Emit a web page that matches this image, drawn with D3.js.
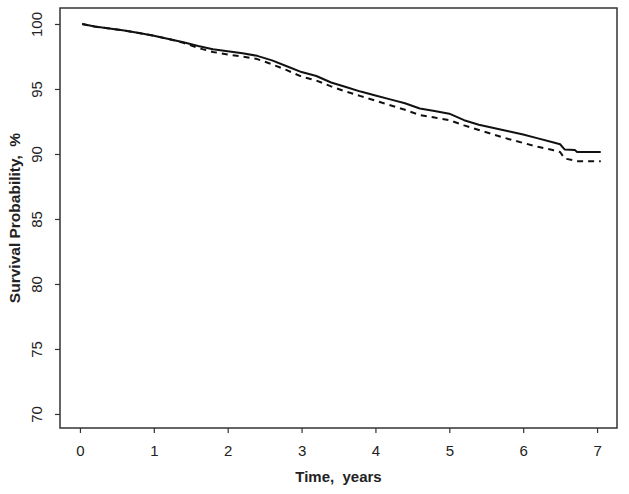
<!DOCTYPE html>
<html>
<head>
<meta charset="utf-8">
<script src="https://cdn.jsdelivr.net/npm/d3@7"></script>
<style>
body{margin:0;background:#fff;}
svg text{font-family:'Liberation Sans',Arial,sans-serif;fill:#222;}
</style>
</head>
<body>
<svg id="svg" width="629" height="494"></svg>
<script>
// KM curves (years, %)
var timesA = [0.03,0.2,0.4,0.6,0.8,1.0,1.2,1.4,1.6,1.8,2.0,2.2,2.4,2.6,2.8,3.0,3.2,3.4,3.6,3.8,4.0,4.2,4.4,4.6,4.8,5.0,5.2,5.4,5.6,5.8,6.0,6.2,6.4,6.5,6.56,6.7,6.73,7.05];
var solidVals = [100,99.8,99.65,99.5,99.3,99.1,98.85,98.6,98.3,98.05,97.9,97.75,97.55,97.2,96.75,96.3,96.0,95.5,95.15,94.8,94.5,94.2,93.9,93.5,93.3,93.1,92.6,92.25,92.0,91.75,91.5,91.2,90.9,90.75,90.35,90.3,90.15,90.15];
var dashVals = [100,99.8,99.65,99.5,99.3,99.1,98.85,98.55,98.15,97.85,97.65,97.5,97.3,96.9,96.45,95.95,95.65,95.2,94.8,94.45,94.1,93.75,93.4,93.0,92.8,92.6,92.2,91.85,91.5,91.15,90.85,90.55,90.3,90.15,89.65,89.5,89.45,89.45];
var xTicks = [0,1,2,3,4,5,6,7];
var yTicks = [70,75,80,85,90,95,100];

var pL = 60, pT = 8, pR = 617, pB = 428;

var x = d3.scaleLinear().domain([-0.27, 7.27]).range([pL, pR]);
var y = d3.scaleLinear().domain([68.92, 101.23]).range([pB, pT]);

var s = d3.select('#svg');

function drawCurve(vals, dash){
    var pts = timesA.map(function(t, i){ return [t, vals[i]]; });
    var line = d3.line()
        .x(function(d){ return x(d[0]); })
        .y(function(d){ return y(d[1]); });
    s.append('path')
        .attr('d', line(pts))
        .attr('fill', 'none')
        .attr('stroke', '#111')
        .attr('stroke-width', 2)
        .attr('stroke-linejoin', 'round')
        .attr('stroke-dasharray', dash ? '6,5' : null);
}

drawCurve(dashVals, true);
drawCurve(solidVals, false);

// frame
s.append('rect')
    .attr('x', pL)
    .attr('y', pT)
    .attr('width', pR - pL)
    .attr('height', pB - pT)
    .attr('fill', 'none')
    .attr('stroke', '#333')
    .attr('stroke-width', 1.5);

// x axis
var xa = s.append('g')
    .attr('transform', 'translate(0,' + pB + ')')
    .call(d3.axisBottom(x).tickValues(xTicks).tickSize(5).tickPadding(12));
xa.select('.domain').remove();
xa.selectAll('line').attr('stroke', '#333').attr('stroke-width', 1.2);
xa.selectAll('text').attr('font-size', 15).attr('font-family', null);

// y axis
var ya = s.append('g')
    .attr('transform', 'translate(' + pL + ',0)')
    .call(d3.axisLeft(y).tickValues(yTicks).tickSize(5));
ya.select('.domain').remove();
ya.selectAll('line').attr('stroke', '#333').attr('stroke-width', 1.2);
ya.selectAll('text')
    .attr('font-size', 15)
    .attr('font-family', null)
    .attr('x', null)
    .attr('dy', null)
    .attr('text-anchor', 'middle')
    .attr('transform', 'translate(-18,0) rotate(-90)');

s.append('text')
    .attr('x', (pL + pR) / 2)
    .attr('y', 482)
    .attr('text-anchor', 'middle')
    .attr('font-size', 15)
    .attr('font-weight', 'bold')
    .style('white-space', 'pre')
    .text('Time,  years');

s.append('text')
    .attr('transform', 'translate(20,' + (pT + pB) / 2 + ') rotate(-90)')
    .attr('text-anchor', 'middle')
    .attr('font-size', 15.5)
    .attr('font-weight', 'bold')
    .style('white-space', 'pre')
    .text('Survival Probability,  %');
</script>
</body>
</html>
